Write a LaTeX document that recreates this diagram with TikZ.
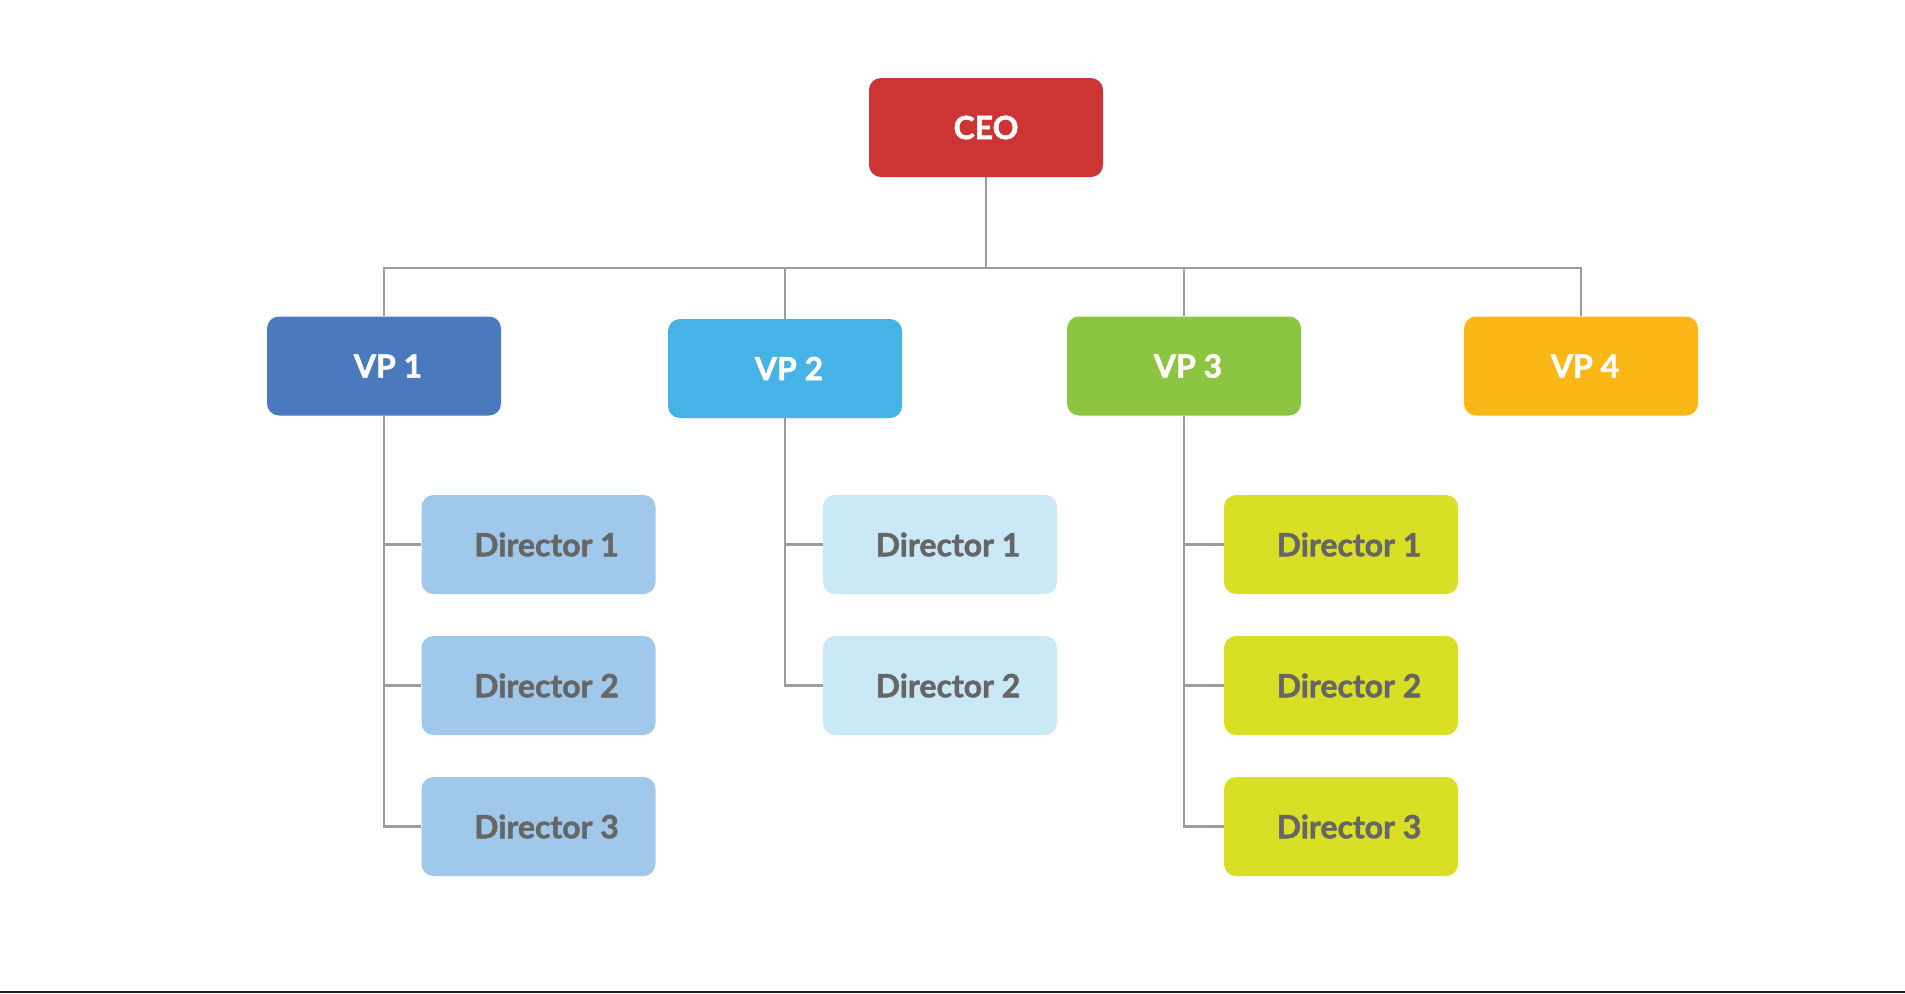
\documentclass[tikz,border=0pt]{standalone}
\usepackage{fontspec}
\setmainfont{Lato}[BoldFeatures={FakeBold=1.6}]
\definecolor{ceoRed}{HTML}{CD3434}
\definecolor{vpA}{HTML}{4A79BE}
\definecolor{vpB}{HTML}{46B3E6}
\definecolor{vpC}{HTML}{8CC540}
\definecolor{vpD}{HTML}{FBB716}
\definecolor{dirA}{HTML}{A0C8EA}
\definecolor{dirB}{HTML}{CAE8F6}
\definecolor{dirC}{HTML}{D8DF24}
\definecolor{dirText}{HTML}{666666}
\definecolor{lineGray}{HTML}{9C9C9C}
\begin{document}
\begin{tikzpicture}[x=0.5pt,y=-0.5pt,
  box/.style={rounded corners=6pt, minimum width=117pt, minimum height=49.5pt, inner sep=0pt,
    font=\fontsize{16}{16}\selectfont\bfseries},
  topbox/.style={box, fill=#1, text=white},
  dirbox/.style={box, fill=#1, text=dirText},
  conn/.style={draw=lineGray, line width=1.2pt}]
\useasboundingbox[fill=white] (0,0) rectangle (1905,993);
\fill[black!88] (0,990.5) rectangle (1905,993);

\node[topbox=ceoRed] (ceo) at (986,127.5) {CEO};
\node[topbox=vpA] (vp1) at (384,366) {\hspace*{4pt}VP 1};
\node[topbox=vpB] (vp2) at (785,368.5) {\hspace*{4pt}VP 2};
\node[topbox=vpC] (vp3) at (1184,366) {\hspace*{4pt}VP 3};
\node[topbox=vpD] (vp4) at (1581,366) {\hspace*{4pt}VP 4};

\node[dirbox=dirA] (d11) at (538.5,544.5) {\hspace*{8pt}Director 1};
\node[dirbox=dirA] (d12) at (538.5,685.5) {\hspace*{8pt}Director 2};
\node[dirbox=dirA] (d13) at (538.5,826.5) {\hspace*{8pt}Director 3};
\node[dirbox=dirB] (d21) at (940,544.5) {\hspace*{8pt}Director 1};
\node[dirbox=dirB] (d22) at (940,685.5) {\hspace*{8pt}Director 2};
\node[dirbox=dirC] (d31) at (1341,544.5) {\hspace*{8pt}Director 1};
\node[dirbox=dirC] (d32) at (1341,685.5) {\hspace*{8pt}Director 2};
\node[dirbox=dirC] (d33) at (1341,826.5) {\hspace*{8pt}Director 3};

\coordinate (bus) at (984,268);
\draw[conn] (ceo.south) -- (ceo.south |- bus);
\draw[conn] (vp1.north) |- (vp4.north |- bus) -- (vp4.north);
\draw[conn] (vp2.north) -- (vp2.north |- bus);
\draw[conn] (vp3.north) -- (vp3.north |- bus);

\draw[conn] (vp1.south) |- (d13.west);
\draw[conn] (vp1.south |- d11.west) -- (d11.west);
\draw[conn] (vp1.south |- d12.west) -- (d12.west);
\draw[conn] (vp2.south) |- (d22.west);
\draw[conn] (vp2.south |- d21.west) -- (d21.west);
\draw[conn] (vp3.south) |- (d33.west);
\draw[conn] (vp3.south |- d31.west) -- (d31.west);
\draw[conn] (vp3.south |- d32.west) -- (d32.west);
\end{tikzpicture}
\end{document}
